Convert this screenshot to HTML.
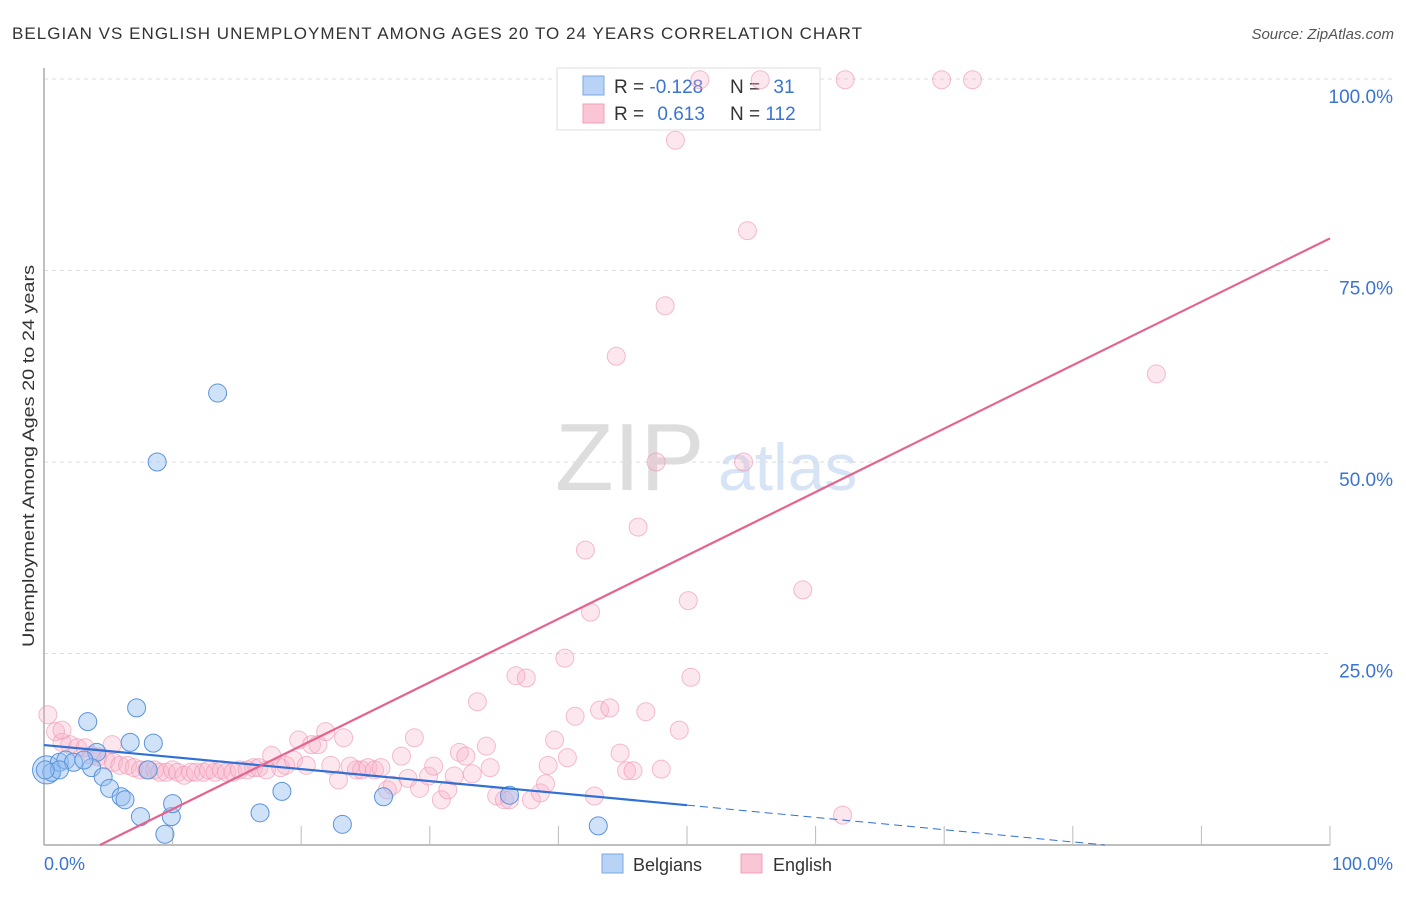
<!DOCTYPE html>
<html><head><meta charset="utf-8"><style>
body{margin:0;background:#fff;font-family:"Liberation Sans",sans-serif}
svg text{font-family:"Liberation Sans",sans-serif}
</style></head><body>
<svg id="c" width="1406" height="892">
<text x="12" y="39" font-size="17" fill="#333" textLength="850" lengthAdjust="spacing">BELGIAN VS ENGLISH UNEMPLOYMENT AMONG AGES 20 TO 24 YEARS CORRELATION CHART</text>
<text x="1394" y="39" font-size="15" fill="#555" font-style="italic" text-anchor="end">Source: ZipAtlas.com</text>
<text x="555" y="490" font-size="96" fill="#ddd" font-family="Liberation Serif">ZIP</text>
<text x="718" y="490" font-size="66" fill="#d6e4f5">atlas</text>
<g id="grid"></g><g id="axes"></g>
<g>
<rect x="557" y="68" width="263" height="62" fill="#fff" stroke="#ddd"/>
<rect x="583" y="76" width="21" height="19" fill="#b8d3f5" stroke="#7aaae6"/>
<rect x="583" y="104" width="21" height="19" fill="#fac6d5" stroke="#eea0b8"/>
<text x="614" y="93" font-size="19" fill="#333">R = <tspan fill="#3a74d0">-0.128</tspan></text>
<text x="730" y="93" font-size="19" fill="#333">N = <tspan fill="#3a74d0" dx="8">31</tspan></text>
<text x="614" y="120" font-size="19" fill="#333">R = <tspan fill="#3a74d0" dx="8">0.613</tspan></text>
<text x="730" y="120" font-size="19" fill="#333">N = <tspan fill="#3a74d0">112</tspan></text>
</g>
<g id="pts"></g><g id="lines"></g>
<text transform="translate(34,456) rotate(-90)" font-size="17" fill="#333" text-anchor="middle" textLength="382" lengthAdjust="spacingAndGlyphs">Unemployment Among Ages 20 to 24 years</text>
<text x="44" y="870" font-size="18" fill="#3a74d0">0.0%</text>
<text x="1393" y="870" font-size="18" fill="#3a74d0" text-anchor="end">100.0%</text>
<g>
<rect x="602" y="854" width="21" height="19" fill="#b8d3f5" stroke="#7aaae6"/>
<text x="633" y="871" font-size="18" fill="#333">Belgians</text>
<rect x="741" y="854" width="21" height="19" fill="#fac6d5" stroke="#eea0b8"/>
<text x="773" y="871" font-size="18" fill="#333">English</text>
</g>
</svg>
<script>
const yTicks=[25,50,75,100];
const yTickLabels=["25.0%","50.0%","75.0%","100.0%"];
const xTicks=[10,20,30,40,50,60,70,80,90,100];
const belgiansX=[0.2,0.6,1.2,1.7,2.3,3.4,4.1,3.7,4.6,5.1,6.0,6.3,6.7,7.2,8.1,7.5,8.5,8.8,9.4,9.9,10.0,13.5,16.8,18.5,23.2,26.4,36.2,43.1,1.2,0.1,3.1];
const belgiansY=[9.8,9.5,10.8,11.1,10.8,16.1,12.1,10.1,8.9,7.4,6.3,5.9,13.4,17.9,9.8,3.7,13.3,50,1.4,3.7,5.4,59,4.2,7.0,2.7,6.3,6.5,2.5,9.8,9.8,11.1];
const englishX=[0.3,0.9,1.4,2.0,2.6,3.2,3.7,4.2,4.8,5.4,5.9,6.5,7.0,7.5,8.0,8.6,9.0,9.5,10.0,10.4,10.9,11.4,11.8,12.4,12.8,13.3,13.8,14.2,14.7,15.2,15.8,16.3,16.7,17.3,17.7,18.4,18.8,19.4,19.8,20.4,20.8,21.3,21.9,22.3,22.9,23.3,23.8,24.3,24.7,25.2,25.7,26.2,26.7,27.1,27.8,28.3,28.8,29.2,29.9,30.3,30.9,31.4,31.9,32.3,32.8,33.3,33.7,34.4,34.7,35.2,35.8,36.2,36.7,37.5,37.9,38.6,39.0,39.2,39.7,40.5,40.7,41.3,42.1,42.5,42.8,43.2,44.0,44.5,44.8,45.3,45.8,46.2,46.8,47.6,48.0,48.3,49.1,49.4,50.1,50.3,51.0,54.4,54.7,55.7,59.0,62.1,62.3,69.8,72.2,86.5,1.4,5.3];
const englishY=[17.0,14.8,13.4,13.1,12.7,12.7,11.7,11.5,11.1,10.8,10.4,10.4,10.1,9.8,9.8,9.8,9.5,9.5,9.8,9.5,9.1,9.5,9.5,9.5,9.8,9.5,9.8,9.5,9.5,9.8,9.8,10.1,10.1,9.8,11.7,10.1,10.4,11.1,13.7,10.4,13.1,13.1,14.8,10.4,8.5,14.0,10.3,9.8,9.8,10.1,9.8,10.1,7.2,7.8,11.6,8.7,14.0,7.4,9.0,10.3,5.9,7.2,9.0,12.1,11.6,9.3,18.7,12.9,10.1,6.4,5.9,5.9,22.1,21.8,5.9,6.8,8.0,10.4,13.7,24.4,11.4,16.8,38.5,30.4,6.4,17.6,17.9,63.8,12.0,9.7,9.7,41.5,17.4,50.0,9.9,70.4,92.0,15.0,31.9,21.9,99.9,50,80.2,99.9,33.3,3.9,99.9,99.9,99.9,61.5,15.0,13.1];
const belgianTrend=[[0,13.05],[50,5.2]];
const belgianTrendExt=[[50,5.2],[82.5,0]];
const englishTrend=[[4.35,0],[100,79.2]];
const NS='http://www.w3.org/2000/svg';
const X=v=>44+v*12.86, Y=v=>845-v*7.66;
function mk(tag,attrs,parent){const e=document.createElementNS(NS,tag);for(const k in attrs)e.setAttribute(k,attrs[k]);document.getElementById(parent).appendChild(e);return e;}
yTicks.forEach((t,i)=>{
 const l=mk('line',{x1:44,x2:t===100?1395:1330,y1:Y(t),y2:Y(t),stroke:'#ddd','stroke-dasharray':'4,4'},'grid');
 
 
 const tx=mk('text',{x:1393,y:Y(t)+24,'font-size':19,fill:'#3a74d0','text-anchor':'end'},'grid');
 tx.textContent=yTickLabels[i];
 
 
});
let a=mk('line',{x1:44,x2:44,y1:68,y2:845,stroke:'#aaa','stroke-width':1.5},'axes');


a=mk('line',{x1:44,x2:1330,y1:845,y2:845,stroke:'#aaa','stroke-width':1.5},'axes');


xTicks.forEach(t=>{const l=mk('line',{x1:X(t),x2:X(t),y1:826,y2:845,stroke:'#bbb'},'axes');
 
 });
englishX.forEach((x,i)=>{const c=mk('circle',{cx:X(x),cy:Y(englishY[i]),r:9,fill:'rgba(248,175,198,0.3)',stroke:'rgba(236,147,176,0.6)','stroke-width':1},'pts');
 
 });
belgiansX.forEach((x,i)=>{const c=mk('circle',{cx:X(x),cy:Y(belgiansY[i]),r:i===0?14:9,fill:'rgba(150,190,240,0.45)',stroke:'#5b93dd','stroke-width':1},'pts');
 
 });
let t=mk('line',{x1:X(belgianTrend[0][0]),y1:Y(belgianTrend[0][1]),x2:X(belgianTrend[1][0]),y2:Y(belgianTrend[1][1]),stroke:'#2f6fd6','stroke-width':2.2},'lines');


t=mk('line',{x1:X(belgianTrendExt[0][0]),y1:Y(belgianTrendExt[0][1]),x2:X(belgianTrendExt[1][0]),y2:Y(belgianTrendExt[1][1]),stroke:'#2f6fd6','stroke-width':1,'stroke-dasharray':'8,5'},'lines');


t=mk('line',{x1:X(englishTrend[0][0]),y1:Y(englishTrend[0][1]),x2:X(englishTrend[1][0]),y2:Y(englishTrend[1][1]),stroke:'#e5648f','stroke-width':2.2},'lines');


</script>
</body></html>
